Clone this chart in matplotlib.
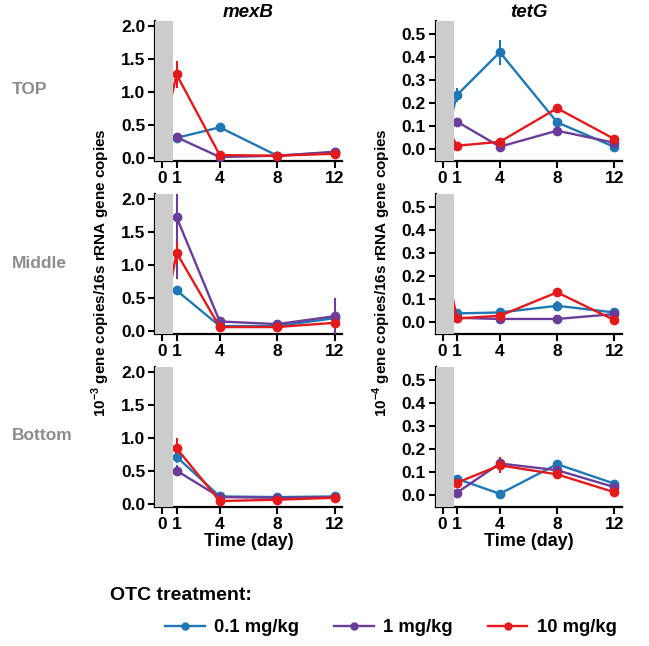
import numpy as np
import matplotlib
matplotlib.use('Agg')
import matplotlib.pyplot as plt
from matplotlib.patches import Rectangle

plt.rcParams['font.family'] = ['Liberation Sans', 'DejaVu Sans']
plt.rcParams['font.weight'] = 'bold'
plt.rcParams['mathtext.fontset'] = 'custom'
plt.rcParams['mathtext.rm'] = 'Liberation Sans:bold'
plt.rcParams['mathtext.bf'] = 'Liberation Sans:bold'

# sampling days (day 0 = before treatment, hidden behind the grey band)
days = [0, 1, 4, 8, 12]
doses = ['0.1 mg/kg', '1 mg/kg', '10 mg/kg']
colors = ['#1f78b4', '#6a3d9a', '#e31a1c']
rows = ['TOP', 'Middle', 'Bottom']
genes = ['mexB', 'tetG']
nan = np.nan

# mexB, 10^-3 copies / 16S
mexB_top = [[nan, 0.31, 0.47, 0.04, 0.09],
            [nan, 0.32, 0.02, 0.04, 0.10],
            [0.30, 1.27, 0.05, 0.04, 0.07]]
mexB_top_err = [[0, 0.03, 0.07, 0.01, 0.01],
                [0, 0.03, 0.01, 0.01, 0.01],
                [0, 0.21, 0.01, 0.01, 0.01]]
mexB_mid = [[nan, 0.62, 0.08, 0.08, 0.20],
            [nan, 1.73, 0.15, 0.11, 0.23],
            [0.05, 1.19, 0.065, 0.065, 0.13]]
mexB_mid_err = [[0, 0.05, 0.01, 0.01, 0.02],
                [0, 0.94, 0.02, 0.02, 0.27],
                [0, 0.17, 0.01, 0.01, 0.02]]
mexB_bot = [[nan, 0.72, 0.12, 0.11, 0.12],
            [nan, 0.51, 0.11, 0.10, 0.11],
            [nan, 0.85, 0.05, 0.07, 0.10]]
mexB_bot_err = [[0, 0.10, 0.01, 0.01, 0.01],
                [0, 0.08, 0.01, 0.01, 0.01],
                [0, 0.16, 0.01, 0.01, 0.02]]

# tetG, 10^-4 copies / 16S
tetG_top = [[0.0, 0.235, 0.42, 0.117, 0.011],
            [nan, 0.12, 0.012, 0.081, 0.029],
            [0.13, 0.016, 0.033, 0.178, 0.045]]
tetG_top_err = [[0, 0.03, 0.055, 0.01, 0.005],
                [0, 0.005, 0.005, 0.005, 0.005],
                [0, 0.01, 0.005, 0.008, 0.005]]
tetG_mid = [[0.13, 0.039, 0.043, 0.072, 0.043],
            [nan, 0.02, 0.015, 0.015, 0.036],
            [0.32, 0.017, 0.029, 0.13, 0.01]]
tetG_mid_err = [[0, 0.005, 0.005, 0.02, 0.005],
                [0, 0.005, 0.005, 0.005, 0.005],
                [0, 0.005, 0.005, 0.008, 0.005]]
tetG_bot = [[nan, 0.072, 0.007, 0.135, 0.051],
            [nan, 0.012, 0.138, 0.109, 0.036],
            [nan, 0.055, 0.13, 0.091, 0.014]]
tetG_bot_err = [[0, 0.01, 0.005, 0.01, 0.005],
                [0, 0.005, 0.005, 0.005, 0.005],
                [0, 0.012, 0.035, 0.01, 0.008]]

data = {'mexB': [(mexB_top, mexB_top_err), (mexB_mid, mexB_mid_err), (mexB_bot, mexB_bot_err)],
        'tetG': [(tetG_top, tetG_top_err), (tetG_mid, tetG_mid_err), (tetG_bot, tetG_bot_err)]}

W, H = 649, 646
fig = plt.figure(figsize=(W / 100, H / 100), dpi=100)

col_left = {'mexB': 155, 'tetG': 435.5}
col_width = {'mexB': 187, 'tetG': 186}
row_top = [21, 194, 367]
row_h = 140
ylims = {'mexB': (-0.04, 2.08), 'tetG': (-0.05, 0.555)}
yticks = {'mexB': [0, 0.5, 1.0, 1.5, 2.0], 'tetG': [0, 0.1, 0.2, 0.3, 0.4, 0.5]}

for gene in genes:
    for r in range(3):
        left = col_left[gene] / W
        bottom = 1 - (row_top[r] + row_h) / H
        ax = fig.add_axes([left, bottom, col_width[gene] / W, row_h / H])
        vals, errs = data[gene][r]
        for i in range(3):
            ax.errorbar(days, vals[i], yerr=errs[i], color=colors[i], lw=1.7,
                        elinewidth=1.5, marker='o', ms=6, capsize=0, zorder=3)
        ax.add_patch(Rectangle((-0.5, -10), 1.28, 20, color='#cccccc', lw=0, zorder=5))
        ax.set_xlim(-0.5, 12.5)
        ax.set_ylim(*ylims[gene])
        ax.set_xticks([0, 1, 4, 8, 12])
        ax.set_yticks(yticks[gene])
        ax.yaxis.set_major_formatter(plt.FormatStrFormatter('%.1f'))
        for s in ['top', 'right']:
            ax.spines[s].set_visible(False)
        for s in ['left', 'bottom']:
            ax.spines[s].set_linewidth(1.6)
        ax.tick_params(width=1.5, length=5, labelsize=12.5, pad=2)
        for lab in ax.get_xticklabels() + ax.get_yticklabels():
            lab.set_fontweight('bold')
        if r == 0:
            ax.set_title(gene, fontsize=13.5, fontweight='bold', style='italic', pad=3)
        if r == 2:
            ax.set_xlabel('Time (day)', fontsize=13, fontweight='bold', labelpad=1)

for r, name in enumerate(rows):
    fig.text(12 / W, 1 - (row_top[r] + 69) / H, name, fontsize=12.5, fontweight='bold',
             color='#8c8c8c', va='center', ha='left')

fig.text(101 / W, 1 - 273 / H, r'10$^{-3}$ gene copies/16s rRNA gene copies', rotation=90,
         fontsize=11, fontweight='bold', ha='center', va='center')
fig.text(382 / W, 1 - 273 / H, r'10$^{-4}$ gene copies/16s rRNA gene copies', rotation=90,
         fontsize=11, fontweight='bold', ha='center', va='center')

# legend
fig.text(110 / W, 1 - 596 / H, 'OTC treatment:', fontsize=14, fontweight='bold', va='center')
handles = [plt.Line2D([], [], color=c, lw=1.7, marker='o', ms=5) for c in colors]
fig.legend(handles, doses, loc='center left', bbox_to_anchor=(165 / W, 1 - 628 / H),
           ncol=3, frameon=False, borderpad=0, borderaxespad=0, handlelength=2.15,
           handletextpad=0.5, columnspacing=1.9, prop={'weight': 'bold', 'size': 13.3})

fig.savefig('out.png', dpi=100)
